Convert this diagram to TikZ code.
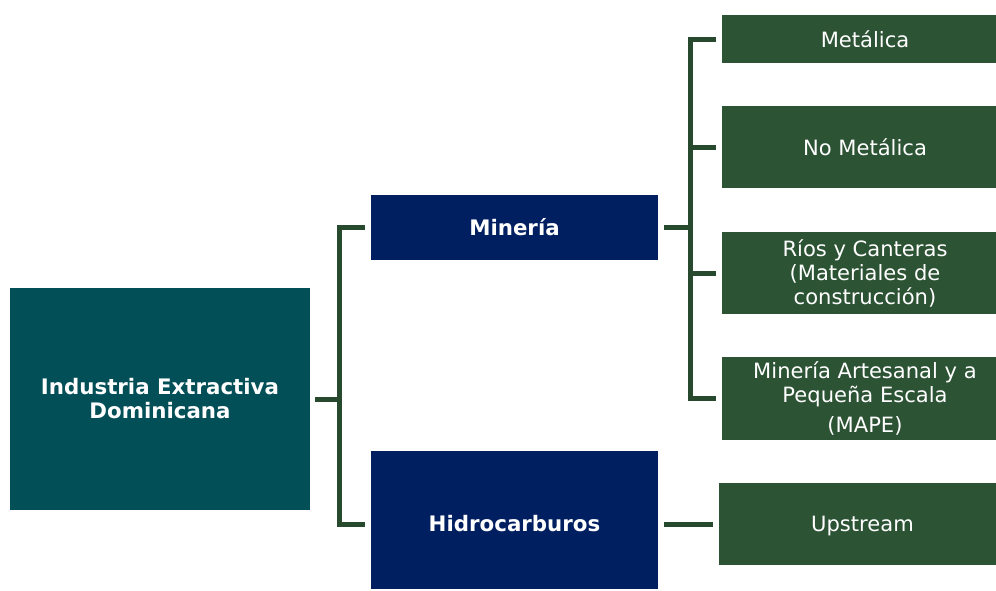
\documentclass[tikz,border=0pt]{standalone}
\usepackage{fontspec}
\setmainfont{DejaVu Sans}
\definecolor{rootc}{HTML}{034F57}
\definecolor{navyc}{HTML}{001F60}
\definecolor{greenc}{HTML}{2D5335}
\definecolor{linec}{HTML}{274A2F}
\begin{document}
\begin{tikzpicture}[x=0.75pt,y=-0.75pt,
  box/.style={rectangle,inner sep=0pt,outer sep=0pt,text=white,align=center},
  rootbox/.style={box,fill=rootc,minimum width=225pt,minimum height=166.5pt,font=\fontsize{16}{18}\selectfont\bfseries},
  navybox/.style={box,fill=navyc,minimum width=215.25pt,font=\fontsize{16}{18}\selectfont\bfseries},
  lab/.style={text=white,align=center,font=\fontsize{15.8}{18}\selectfont},
  gbox/.style={box,fill=greenc,minimum width=205.5pt,minimum height=61.5pt,
     label={[lab,xshift=4.5pt]center:#1}},
  conn/.style={draw=linec,line width=3.75pt,line cap=butt,line join=miter}]
\useasboundingbox (0,0) rectangle (996,590);
\node[rootbox] (root) at (160,399) {Industria Extractiva\\Dominicana};
\node[navybox,minimum height=48.75pt] (min) at (514.5,227.5) {Minería};
\node[navybox,minimum height=103.5pt,label={[text=white,font=\fontsize{16}{18}\selectfont\bfseries,yshift=-3pt]center:Hidrocarburos}] (hid) at (514.5,520) {};
\node[gbox={Metálica},minimum height=36pt] (met) at (859,39) {};
\node[gbox={No Metálica}] (nom) at (859,147) {};
\node[gbox={Ríos y Canteras\\(Materiales de\\construcción)}] (rios) at (859,273) {};
\node[gbox={Minería Artesanal y a\\Pequeña Escala\\[5pt](MAPE)},minimum height=62.25pt] (mape) at (859,398.5) {};
\node[box,fill=greenc,minimum width=207.75pt,minimum height=61.5pt,label={[lab,xshift=3.75pt,yshift=-1.5pt]center:Upstream}] (up) at (857.5,524) {};
% root bracket
\draw[conn] ([xshift=3.75pt]root.east) -- ++(24,0);
\draw[conn] ([xshift=-4.5pt]min.west) -- ++(-26,0) |- ([xshift=-4.5pt,yshift=-3pt]hid.west);
% mineria bracket
\draw[conn] ([xshift=4.5pt]min.east) -- ++(26,0);
\draw[conn] ([xshift=-4.5pt]met.west) -- ++(-26,0) |- ([xshift=-4.5pt]mape.west);
\draw[conn] ([xshift=-4.5pt]nom.west) -- ++(-26,0);
\draw[conn] ([xshift=-4.5pt]rios.west) -- ++(-26,0);
% hidrocarburos
\draw[conn] ([xshift=4.5pt,yshift=-3pt]hid.east) -- ([xshift=-4.5pt]up.west);
\end{tikzpicture}
\end{document}
